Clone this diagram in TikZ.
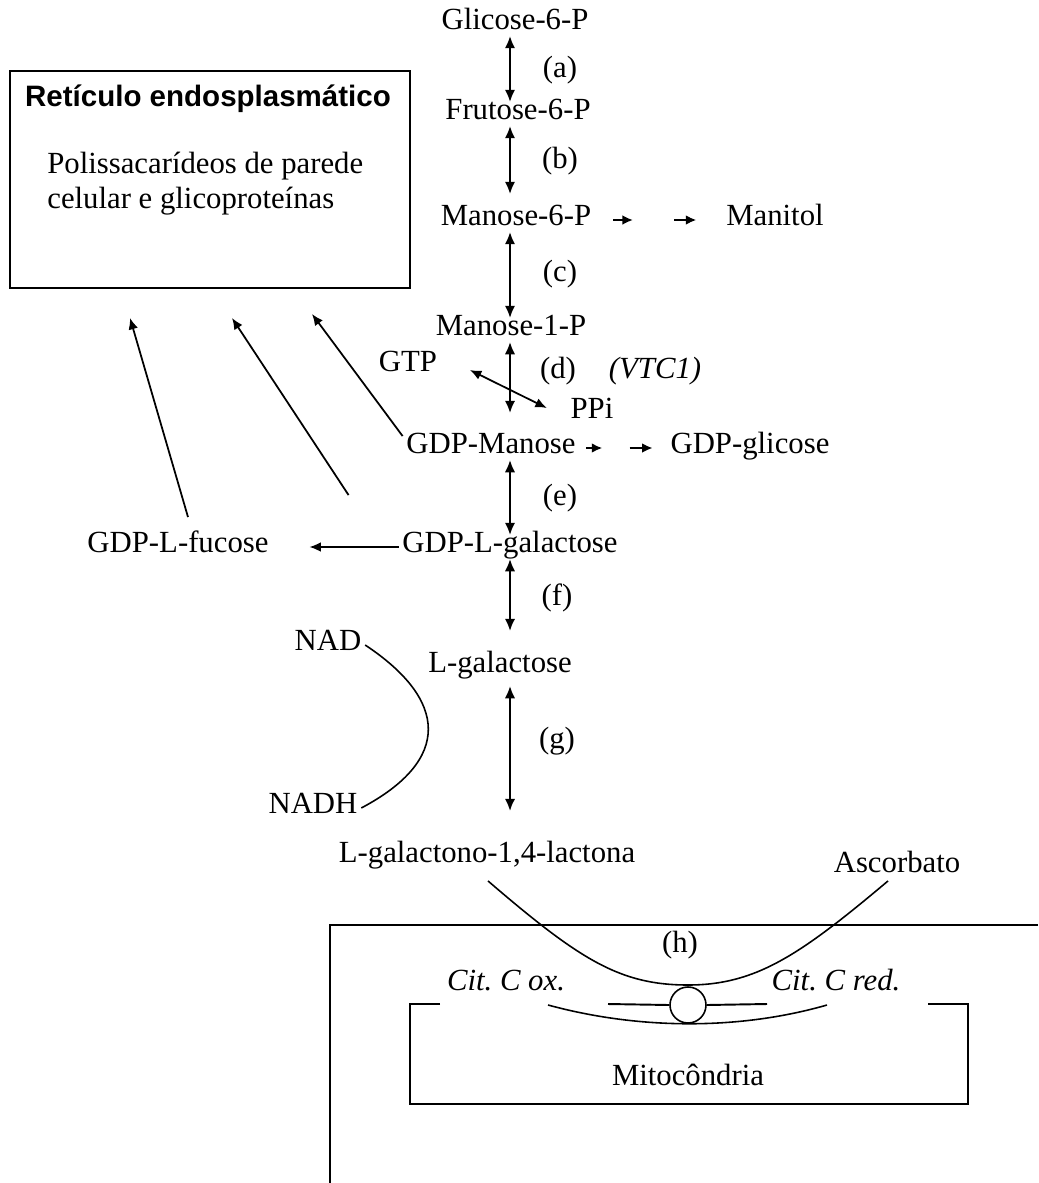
\documentclass[tikz,border=0pt]{standalone}
\usepackage{fontspec}
\setmainfont{Liberation Serif}
\setsansfont{Liberation Sans}
\usepackage{tikz}
\usetikzlibrary{arrows.meta,positioning,calc}
\frenchspacing
\tikzset{
  met/.style={inner sep=2pt, text height=0.8em, text depth=0.12em},
  enz/.style={met},
  revarrow/.style={{Latex[length=7pt,width=6pt]}-{Latex[length=7pt,width=6pt]}, line width=1.3pt},
  thinrev/.style={{Latex[length=6.5pt,width=5.5pt]}-{Latex[length=6.5pt,width=5.5pt]}, line width=1pt},
  arrow/.style={-{Latex[length=6.5pt,width=5.5pt]}, line width=1pt},
  stub/.style={-{Latex[length=6pt,width=5.5pt]}, line width=1.3pt},
  membrane/.style={line width=1.1pt},
  curve/.style={line width=0.9pt}
}

\begin{document}
\begin{tikzpicture}[x=0.02cm, y=-0.02cm, font=\fontsize{17.5pt}{20pt}\selectfont]
  \useasboundingbox (0,0) rectangle (1038,1183);
  \coordinate (spine) at (510,0);
  % main pathway
  \node[met] (g6p) at (515,24) {Glicose-6-P};
  \node[met] (f6p) at (518,114) {Frutose-6-P};
  \node[met] (m6p) at (516,220) {Manose-6-P};
  \node[met] (m1p) at (511,330) {Manose-1-P};
  \node[met] (gdpman) at (491,448) {GDP-Manose};
  \node[met] (gdpgal) at (510,547) {GDP-L-galactose};
  \node[met] (lgal) at (500,667) {L-galactose};
  \node[met] (lgl) at (487,857) {L-galactono-1,4-lactona};
  \node[met] (asc) at (897,867) {Ascorbato};
  % side products
  \node[met] (manitol) at (775,220) {Manitol};
  \node[met] (gdpglc) at (750,448) {GDP-glicose};
  \node[met] (fuc) at (178,547) {GDP-L-fucose};
  \node[met] (gtp) at (408,366) {GTP};
  \node[met] (ppi) at (592,413) {PPi};
  \node[met] (nad) at (328,645) {NAD};
  \node[met] (nadh) at (313,808) {NADH};
  \node[met] (vtc) at (655,373) {\textit{(VTC1)}};
  % enzyme steps
  \node[enz] (la) at (560,72) {(a)};
  \node[enz] (lb) at (560,163) {(b)};
  \node[enz] (lc) at (560,276) {(c)};
  \node[enz] (ld) at (558,373) {(d)};
  \node[enz] (le) at (560,500) {(e)};
  \node[enz] (lf) at (557,600) {(f)};
  \node[enz] (lg) at (557,743) {(g)};
  \node[enz] (lh) at (680,947) {(h)};
  % reticulo
  \node[draw, line width=1.1pt, minimum width=8cm, minimum height=4.34cm, inner sep=0pt] (er) at (210,179.5) {};
  \node[font=\sffamily\bfseries\fontsize{16.8pt}{20pt}\selectfont] (ert) at (208,99) {Retículo endosplasmático};
  \node[anchor=west, align=left, inner sep=0pt] (erb) at (47,184) {Polissacarídeos de parede\\celular e glicoproteínas};

  \draw[revarrow] (g6p.south -| spine) -- (f6p.north -| spine);
  \draw[revarrow, shorten >=0.28cm] (f6p.south -| spine) -- (m6p.north -| spine);
  \draw[revarrow] (m6p.south -| spine) -- (m1p.north -| spine);
  \draw[revarrow, shorten >=0.46cm] (m1p.south -| spine) -- (gdpman.north -| spine);
  \draw[revarrow] (gdpman.south -| spine) -- (gdpgal.north -| spine);
  \draw[revarrow, shorten >=0.48cm] (gdpgal.south -| spine) -- (lgal.north -| spine);
  \draw[revarrow, shorten <=0.14cm, shorten >=0.68cm] (lgal.south -| spine) -- (lgl.north -| spine);
  \draw[thinrev] ($(gtp.east)+(29,4)$) -- ($(ppi.west)+(-20,-5)$);
  \draw[stub] ($(m6p.east)+(18,0)$) -- ++(20,0);
  \draw[stub] ($(manitol.west)+(-48,0)$) -- ++(22,0);
  \draw[stub] ($(gdpman.east)+(7,0)$) -- ++(16,0);
  \draw[stub] ($(gdpglc.west)+(-37,0)$) -- ++(23,0);
  \draw[arrow, shorten >=0.74cm] (gdpgal.west) -- (fuc.east);
  \draw[arrow] ($(fuc.north)+(10,-18)$) -- ($(er.south)+(-80,29)$);
  \draw[arrow] ($(gdpgal.north west)+(-50,-40)$) -- ($(er.south)+(22,29)$);
  \draw[arrow] (gdpman.north west) -- ($(er.south)+(102,25)$);
  \draw[curve] (nad.east) .. controls (448,700) and (452,760) .. (nadh.east);

  % mitocondria
  \draw[membrane] (1038,925) -| (330,1183);
  \node[draw, circle, line width=0.9pt, minimum size=0.72cm, inner sep=0pt] (cyt) at (688,1005) {};
  \draw[membrane] (440,1004) -| (410,1104) -| (968,1004) -- (928,1004);
  \draw[membrane] (608,1004) -- (cyt.west);
  \draw[membrane] (cyt.east) -- (767,1004);
  \draw[curve] (548,1005) .. controls (640,1030) and (740,1030) .. (827,1005);
  \draw[curve] ($(lgl.south)+(1,12)$) .. controls (580,960) and (620,985) .. (688,985)
    .. controls (756,985) and (800,955) .. ($(asc.south)+(-9,2)$);
  \node[met] (citox) at (506,985) {\textit{Cit. C ox.}};
  \node[met] (citred) at (836,985) {\textit{Cit. C red.}};
  \node[met] (mito) at (688,1080) {Mitocôndria};
\end{tikzpicture}
\end{document}
